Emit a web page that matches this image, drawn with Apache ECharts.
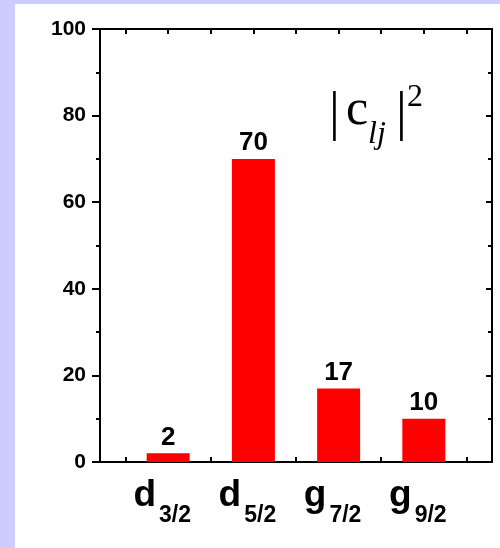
<!DOCTYPE html>
<html>
<head>
<meta charset="utf-8">
<script src="https://cdn.jsdelivr.net/npm/echarts@6/dist/echarts.min.js"></script>
<style>
html,body{margin:0;padding:0;width:500px;height:548px;background:#ccccff;overflow:hidden;}
#wrap{position:absolute;left:15px;top:4px;width:485px;height:544px;background:#ffffff;}
#chart{width:485px;height:544px;}
</style>
</head>
<body>
<div id="wrap"><div id="chart"></div></div>
<script>
// ---- data ----
const catMain = ['d', 'd', 'g', 'g'];
const catSub = ['3/2', '5/2', '7/2', '9/2'];
const catPos = [1, 2, 3, 4];
const values = [2, 70, 17, 10];
const yMin = 0, yMax = 100, yStep = 20;
const xMin = 0.2, xMax = 4.8;
const halfTicks = [0.5, 1, 1.5, 2, 2.5, 3, 3.5, 4, 4.5];
const bottomTicks = [0.5, 1.5, 2.5, 3.5, 4.5];

const chart = echarts.init(document.getElementById('chart'), null, {renderer: 'canvas'});
const OX = 15, OY = 4; // offset of chart container within page
const sans = 'Liberation Sans, Arial, sans-serif';
const serif = 'Liberation Serif, Times New Roman, serif';
const lineCol = '#000000';

function txt(text, pageX, baselineY, size, italic) {
  return {
    type: 'text',
    x: pageX - OX,
    y: baselineY - OY - 0.28 * size,
    style: {
      text: text,
      fontFamily: serif,
      fontSize: size,
      fontStyle: italic ? 'italic' : 'normal',
      fill: '#000',
      textAlign: 'left',
      textVerticalAlign: 'middle'
    }
  };
}

const option = {
  animation: false,
  backgroundColor: 'transparent',
  grid: {left: 85, right: 8, top: 25, bottom: 86, containLabel: false},
  xAxis: [
    {
      type: 'value', position: 'bottom', min: xMin, max: xMax,
      axisLine: {show: true, onZero: false, lineStyle: {color: lineCol, width: 2}},
      axisTick: {show: true, inside: true, length: 5, customValues: bottomTicks, lineStyle: {color: lineCol, width: 2}},
      splitLine: {show: false},
      axisLabel: {
        show: true, margin: 15, customValues: catPos,
        formatter: function (v) {
          const i = catPos.indexOf(Math.round(v));
          return i < 0 ? '' : '{a|' + catMain[i] + '}{b|' + catSub[i] + '}';
        },
        rich: {
          a: {fontFamily: sans, fontWeight: 'bold', fontSize: 37, lineHeight: 50, verticalAlign: 'top', color: '#000'},
          b: {fontFamily: sans, fontWeight: 'bold', fontSize: 23, lineHeight: 14, verticalAlign: 'bottom', color: '#000', padding: [0, 12, 0, 3]}
        }
      }
    },
    {
      type: 'value', position: 'top', min: xMin, max: xMax,
      axisLine: {show: true, onZero: false, lineStyle: {color: lineCol, width: 2}},
      axisTick: {show: true, inside: true, length: 5, customValues: halfTicks, lineStyle: {color: lineCol, width: 2}},
      axisLabel: {show: false},
      splitLine: {show: false}
    }
  ],
  yAxis: [
    {
      type: 'value', position: 'left', min: yMin, max: yMax, interval: yStep,
      axisLine: {show: true, onZero: false, lineStyle: {color: lineCol, width: 2}},
      axisTick: {show: true, inside: false, length: 8, lineStyle: {color: lineCol, width: 2}},
      minorTick: {show: true, splitNumber: 2, length: 4, lineStyle: {color: lineCol, width: 2}},
      splitLine: {show: false},
      axisLabel: {show: true, margin: 14, fontFamily: sans, fontWeight: 'bold', fontSize: 21, color: '#000'}
    },
    {
      type: 'value', position: 'right', min: yMin, max: yMax, interval: yStep,
      axisLine: {show: true, onZero: false, lineStyle: {color: lineCol, width: 2}},
      axisTick: {show: true, inside: true, length: 6, lineStyle: {color: lineCol, width: 2}},
      minorTick: {show: true, splitNumber: 2, length: 4, lineStyle: {color: lineCol, width: 2}},
      splitLine: {show: false},
      axisLabel: {show: false}
    }
  ],
  series: [
    {
      type: 'bar', xAxisIndex: 0, yAxisIndex: 0,
      data: catPos.map((p, i) => [p, values[i]]),
      barWidth: 43,
      itemStyle: {color: '#ff0000'},
      label: {show: true, position: 'top', distance: 3, fontFamily: sans, fontWeight: 'bold', fontSize: 26, color: '#000',
        formatter: p => String(p.value[1])}
    }
  ],
  graphic: {
    elements: [
      txt('|', 329, 130, 54, false),
      txt('c', 346, 125, 50, false),
      txt('lj', 368, 144, 32, true),
      txt('|', 396, 130, 54, false),
      txt('2', 407, 107, 32, false)
    ]
  }
};
chart.setOption(option);
</script>
</body>
</html>
